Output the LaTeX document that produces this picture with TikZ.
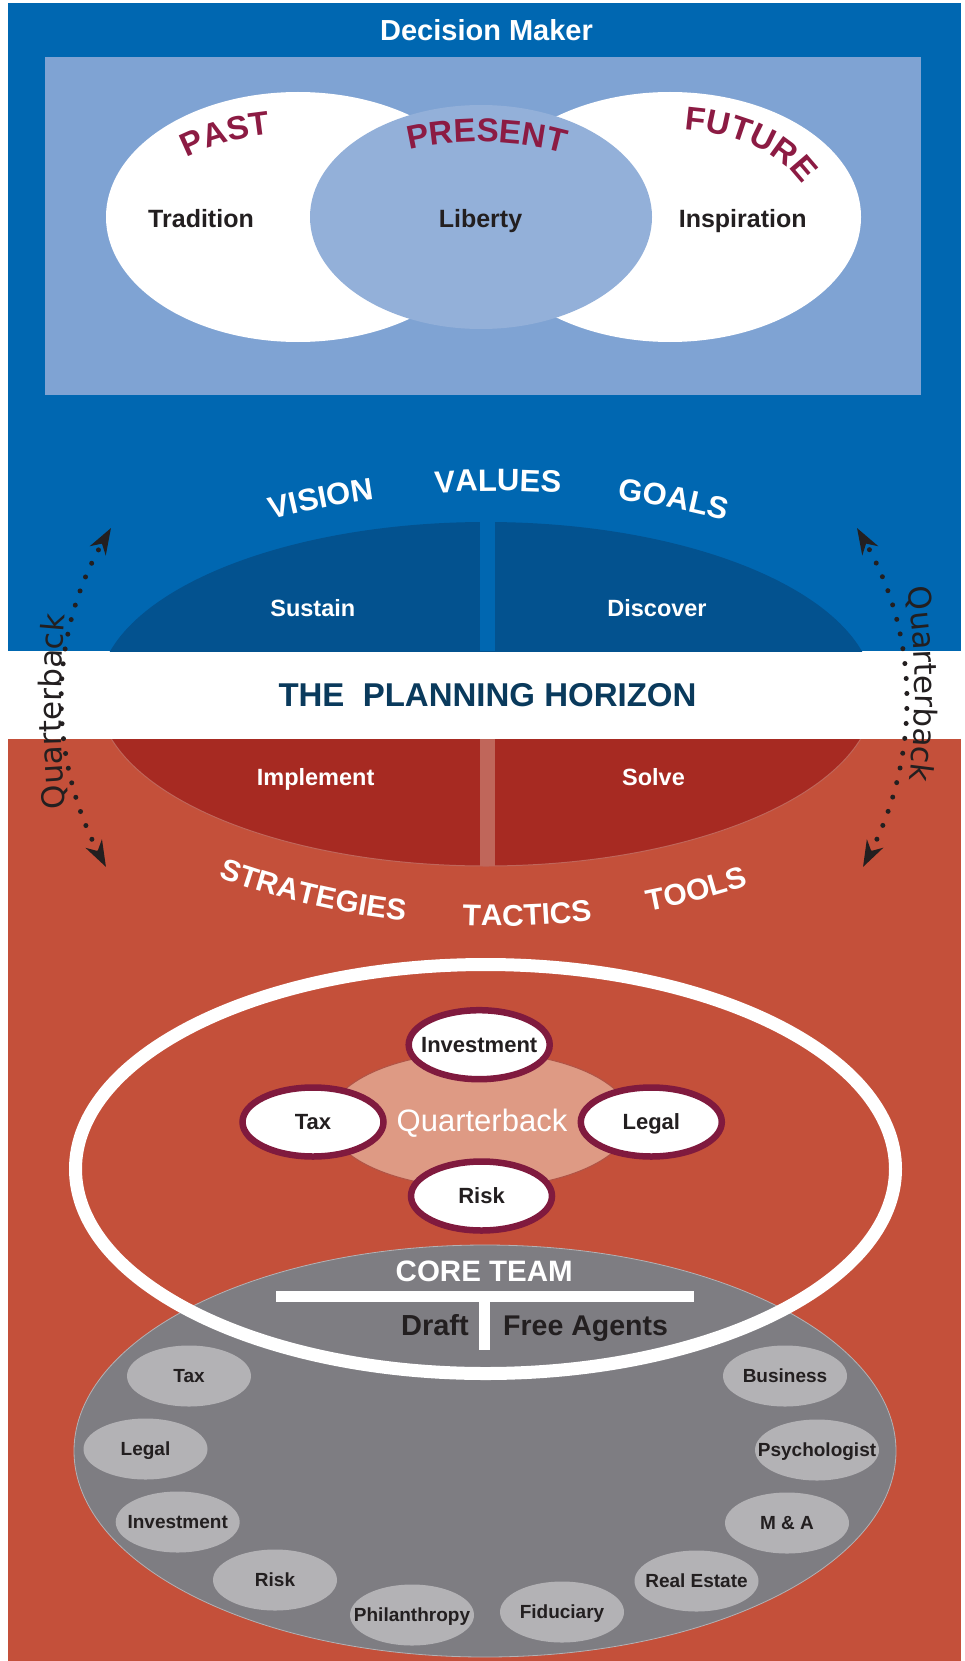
\documentclass[tikz,border=0pt]{standalone}
\usepackage{fontspec}
\setmainfont{Liberation Sans}
\newfontfamily\sidefont{DejaVu Sans}
\usetikzlibrary{arrows.meta,decorations.text,shapes.geometric}

\definecolor{dmblue}{RGB}{0,103,177}
\definecolor{boxblue}{RGB}{127,163,211}
\definecolor{presblue}{RGB}{147,176,217}
\definecolor{deepblue}{RGB}{3,82,143}
\definecolor{navy}{RGB}{10,58,92}
\definecolor{fieldred}{RGB}{196,80,58}
\definecolor{deepred}{RGB}{167,42,34}
\definecolor{splitred}{RGB}{192,102,90}
\definecolor{salmon}{RGB}{222,154,132}
\definecolor{qbedge}{RGB}{176,84,70}
\definecolor{coachring}{RGB}{128,26,62}
\definecolor{timered}{RGB}{140,27,67}
\definecolor{teamgrey}{RGB}{126,125,130}
\definecolor{agentgrey}{RGB}{179,178,181}
\definecolor{ink}{RGB}{35,31,32}

\newcommand\timefont{\fontsize{33}{33}\selectfont\bfseries}
\newcommand\wordfont{\fontsize{31}{31}\selectfont\bfseries}
\newcommand\toolfont{\fontsize{30}{30}\selectfont\bfseries}
\newcommand\qbsidefont{\sidefont\fontsize{31}{31}\selectfont}

\begin{document}
\begin{tikzpicture}[x=1pt,y=1pt,
    word/.style={inner sep=0pt, anchor=base, font=\fontsize{#1}{#1}\selectfont\bfseries},
    arcword/.style 2 args={decorate, decoration={text along path, text color=#1, text align=left, text={#2}}},
    agent/.style={ellipse, fill=agentgrey, minimum width=124pt, minimum height=61pt,
      inner xsep=-18pt, inner ysep=0pt, text=ink, text height=13.6pt, text depth=0pt,
      font=\fontsize{19}{19}\selectfont\bfseries},
    coach/.style={ellipse, fill=white, draw=coachring, line width=6.5pt, minimum width=141pt,
      minimum height=69pt, inner xsep=-10pt, inner ysep=0pt, text=ink, text height=15.8pt,
      text depth=0pt, font=\fontsize{22}{22}\selectfont\bfseries},
    qbarrow/.style={ink, line width=5pt, line cap=round, dash pattern=on 0pt off 15pt,
      {Stealth[length=26pt,width=18pt,inset=8pt]}-{Stealth[length=26pt,width=18pt,inset=8pt]}}]

  \useasboundingbox (0,0) rectangle (964,-1661);
  \fill[white] (0,0) rectangle (964,-1661);

  % decision maker
  \fill[dmblue] (8,-2.7) rectangle (961,-651);
  \fill[boxblue] (45,-57) rectangle (921,-395);
  \fill[white] (298,-217) ellipse[x radius=192, y radius=125];
  \fill[white] (670,-217) ellipse[x radius=191, y radius=125];
  \fill[presblue] (481,-217) ellipse[x radius=171, y radius=112];

  \node[word=29, text=white] (dm) at (486.5,-40.7) {Decision Maker};
  \node[word=25, text=ink] (trad) at (201,-227.7) {Tradition};
  \node[word=25, text=ink] (lib) at (480.5,-227.7) {Liberty};
  \node[word=25, text=ink] (insp) at (742.7,-227.7) {Inspiration};

  \path[arcword={timered}{|\timefont|PAST}]
    (298,-217) ++(135:158 and 84) arc[start angle=135, end angle=40, x radius=158, y radius=84];
  \path[arcword={timered}{|\timefont|PRESENT}]
    (481,-217) ++(117:158 and 75) arc[start angle=117, end angle=20, x radius=158, y radius=75];
  \path[arcword={timered}{|\timefont|FUTURE}]
    (670,-217) ++(84:142 and 88) arc[start angle=84, end angle=-40, x radius=142, y radius=88];

  % field below
  \fill[fieldred] (8,-739) rectangle (961,-1661);

  % planning horizon
  \begin{scope}
    \clip (8,-2.7) rectangle (961,-651);
    \fill[deepblue] (486,-694) ellipse[x radius=388, y radius=172];
  \end{scope}
  \begin{scope}
    \clip (8,-739) rectangle (961,-1661);
    \filldraw[fill=deepred, draw=splitred, line width=1pt] (486,-694) ellipse[x radius=388, y radius=172];
  \end{scope}
  \fill[dmblue] (479.5,-522) rectangle (494.5,-651);
  \fill[splitred] (479.5,-739) rectangle (494.5,-866);

  \node[word=23.5, text=white] (sustain) at (312.8,-616) {Sustain};
  \node[word=23.5, text=white] (discover) at (657,-616) {Discover};
  \node[word=23.5, text=white] (implement) at (315.6,-785.7) {Implement};
  \node[word=23.5, text=white] (solve) at (653.5,-785.7) {Solve};
  \node[word=33, text=navy] (horizon) at (487.5,-706.8) {THE\ \ PLANNING HORIZON};

  \path[arcword={white}{|\wordfont|VISION}]
    (497,-1391) ++(104.5:900) arc[start angle=104.5, end angle=90, radius=900];
  \path[arcword={white}{|\wordfont|VALUES}]
    (497,-1391) ++(93.95:900) arc[start angle=93.95, end angle=80, radius=900];
  \path[arcword={white}{|\wordfont|GOALS}]
    (497,-1391) ++(82.3:900) arc[start angle=82.3, end angle=70, radius=900];

  \path[arcword={white}{|\toolfont|STRATEGIES}]
    (495,-114) ++(250.1:812) arc[start angle=250.1, end angle=268, radius=812];
  \path[arcword={white}{|\toolfont|TACTICS}]
    (495,-114) ++(267.7:812) arc[start angle=267.7, end angle=280, radius=812];
  \path[arcword={white}{|\toolfont|TOOLS}]
    (495,-114) ++(280.9:812) arc[start angle=280.9, end angle=292, radius=812];

  % quarterback loops
  \coordinate (lTop) at (111,-528);
  \coordinate (lBot) at (106,-867);
  \coordinate (rTop) at (857,-528);
  \coordinate (rBot) at (863,-867);
  \draw[qbarrow] (lBot) .. controls (50,-760) and (46,-640) .. (lTop);
  \draw[qbarrow] (rBot) .. controls (918,-760) and (922,-640) .. (rTop);
  \path[arcword={ink}{|\qbsidefont|Quarterback}]
    (1061,-709) ++(185.7:1000) arc[start angle=185.7, end angle=170, radius=1000];
  \path[arcword={ink}{|\qbsidefont|Quarterback}]
    (248,-690) ++(8.8:667) arc[start angle=8.8, end angle=-20, radius=667];

  % core team and quarterback
  \filldraw[fill=teamgrey, draw=agentgrey, line width=0.8pt] (485,-1451) ellipse[x radius=411, y radius=206];
  \draw[white, line width=13pt] (485.5,-1169) ellipse[x radius=410, y radius=204.5];
  \filldraw[fill=salmon, draw=qbedge, line width=1pt] (480,-1120) ellipse[x radius=151, y radius=68];

  \node[font=\fontsize{31}{31}\selectfont, text=white, inner sep=0pt, anchor=base] (qbCore) at (482,-1131.7) {Quarterback};

  \node[coach] (cInvest) at (479.2,-1044.7) {Investment};
  \node[coach] (cTax) at (313,-1122) {Tax};
  \node[coach] (cLegal) at (651.3,-1122) {Legal};
  \node[coach] (cRisk) at (481.5,-1196) {Risk};

  \node[word=29.5, text=white] (core) at (484.2,-1281.7) {CORE TEAM};
  \fill[white] (275.7,-1291) rectangle (694,-1301.7);
  \fill[white] (479.3,-1301) rectangle (490,-1350);
  \node[word=29, text=ink, anchor=base east] (draft) at (469,-1335) {Draft};
  \node[word=28.5, text=ink, anchor=base west] (agents) at (503,-1335) {Free Agents};

  \begin{scope}[every node/.style={agent}]
    \node (aTax) at (189,-1376) {Tax};
    \node (aLegal) at (145.5,-1449) {Legal};
    \node (aInvest) at (177.7,-1522) {Investment};
    \node (aRisk) at (275,-1580) {Risk};
    \node (aPhil) at (412,-1615) {Philanthropy};
    \node (aFid) at (562,-1612) {Fiduciary};
    \node (aReal) at (696.5,-1581) {Real Estate};
    \node (aMA) at (787,-1523) {M \& A};
    \node (aPsych) at (817,-1450) {Psychologist};
    \node (aBiz) at (785,-1376) {Business};
  \end{scope}

\end{tikzpicture}
\end{document}
